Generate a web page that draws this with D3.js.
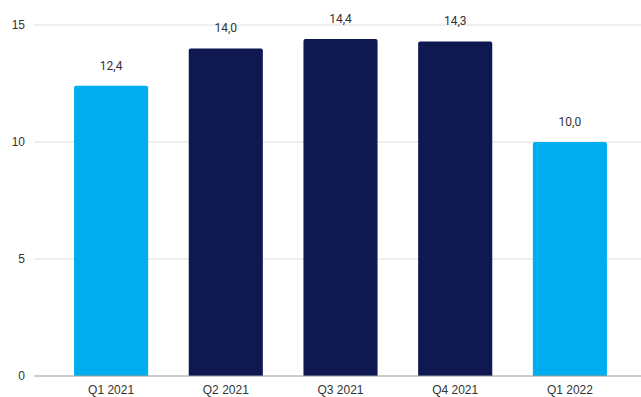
<!DOCTYPE html>
<html>
<head>
<meta charset="utf-8">
<script src="https://cdn.jsdelivr.net/npm/d3@7"></script>
<style>
  html, body { margin: 0; padding: 0; background: #fff; }
  svg { display: block; font-family: Roboto, "Liberation Sans", Arial, sans-serif; }
</style>
</head>
<body>
<svg id="chart" width="641" height="397"></svg>
<script>
// Quarterly values
const categories = ["Q1 2021", "Q2 2021", "Q3 2021", "Q4 2021", "Q1 2022"];
const values = [12.4, 14.0, 14.4, 14.3, 10.0];
const highlight = [true, false, false, false, true];
const yTicks = [0, 5, 10, 15];

const svg = d3.select("#chart");

const x = d3.scaleBand()
  .domain(categories)
  .range([53.75, 627.25])
  .paddingInner(0.354)
  .paddingOuter(0.177);

const y = d3.scaleLinear().domain([0, 15]).range([376, 25]);

const fmt = v => d3.format(".1f")(v).replace(".", ",");

// Gridlines and y labels
const yAxis = svg.append("g").attr("transform", "translate(34,0)")
  .call(d3.axisLeft(y).tickValues(yTicks).tickSize(0).tickPadding(9).tickFormat(d3.format("d")));
yAxis.select(".domain").remove();
yAxis.selectAll("text").attr("fill", "#333").attr("font-size", 12);

svg.append("g").selectAll("line").data(yTicks.filter(t => t > 0)).join("line")
  .attr("x1", 34).attr("x2", 641)
  .attr("y1", d => y(d)).attr("y2", d => y(d))
  .attr("stroke", "#dedede").attr("stroke-width", 1);

// Bars with slightly rounded tops
const r = 2;
svg.append("g").selectAll("path").data(values).join("path")
  .attr("fill", (d, i) => highlight[i] ? "#00aeef" : "#0f1850")
  .attr("d", (d, i) => {
    const x0 = x(categories[i]), w = x.bandwidth(), top = y(d), bot = y(0);
    return `M${x0},${bot}V${top + r}Q${x0},${top} ${x0 + r},${top}H${x0 + w - r}Q${x0 + w},${top} ${x0 + w},${top + r}V${bot}Z`;
  });

// Value labels
svg.append("g").selectAll("text").data(values).join("text")
  .attr("x", (d, i) => x(categories[i]) + x.bandwidth() / 2)
  .attr("y", d => y(d) - 16)
  .attr("text-anchor", "middle")
  .attr("font-size", 12)
  .attr("fill", "#333")
  .text(d => fmt(d));

// Baseline and category labels
const xAxis = svg.append("g").attr("transform", `translate(0,${y(0)})`)
  .call(d3.axisBottom(x).tickSize(0).tickPadding(9));
xAxis.select(".domain").remove();
xAxis.selectAll("text").attr("fill", "#333").attr("font-size", 12);

svg.append("line")
  .attr("x1", 34).attr("x2", 641)
  .attr("y1", y(0)).attr("y2", y(0))
  .attr("stroke", "#9a9a9a").attr("stroke-width", 1.2);
</script>
</body>
</html>
